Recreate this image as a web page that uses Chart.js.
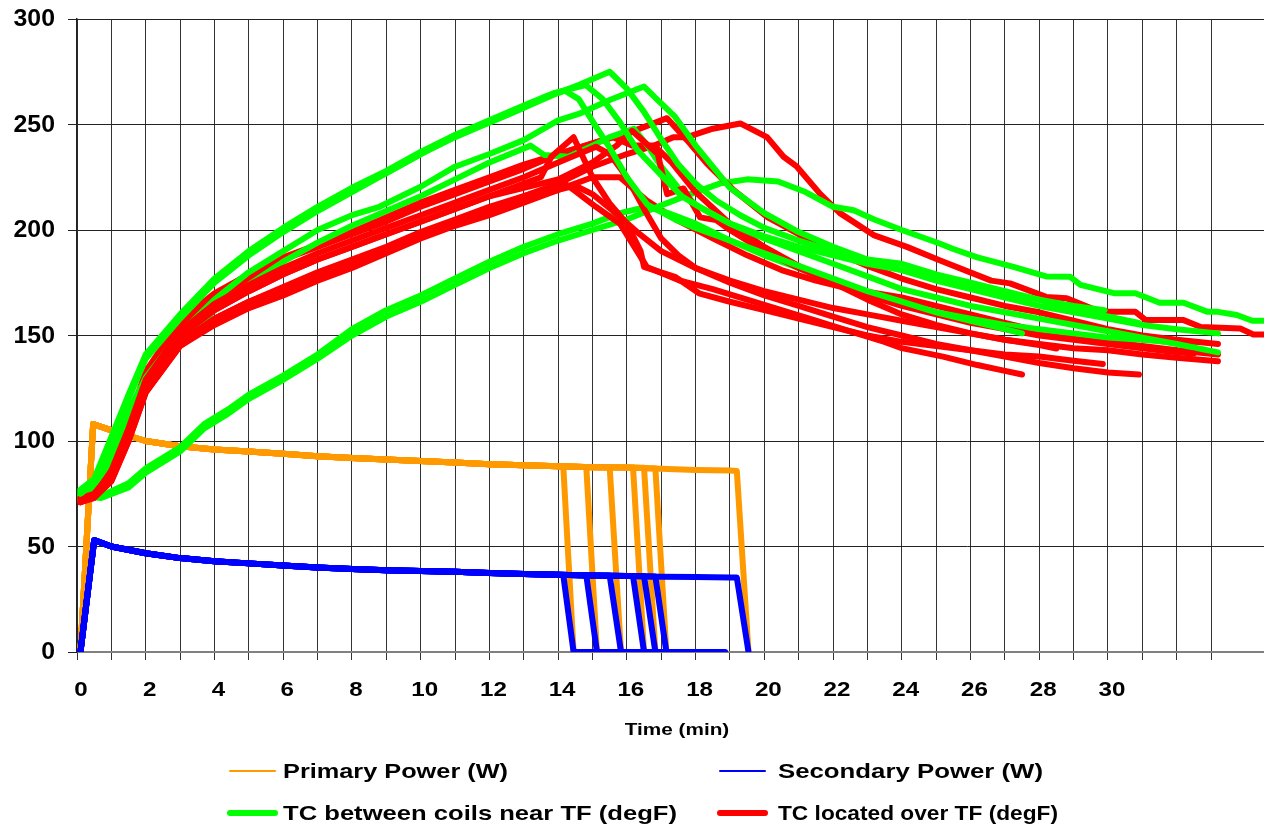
<!DOCTYPE html>
<html>
<head>
<meta charset="utf-8">
<script src="https://cdn.jsdelivr.net/npm/chart.js@4/dist/chart.umd.min.js"></script>
<style>
html,body{margin:0;padding:0;background:#fff;}
#wrap{width:1264px;height:828px;position:relative;}
</style>
</head>
<body>
<div id="wrap"><canvas id="c"></canvas></div>
<script>
// ---------- tick labels ----------
const xTickLabels = [0,2,4,6,8,10,12,14,16,18,20,22,24,26,28,30];
const yTickValues = [0,50,100,150,200,250,300];
const xAxisTitle = 'Time (min)';
const legendNames = ['Primary Power (W)','Secondary Power (W)','TC between coils near TF (degF)','TC located over TF (degF)'];

// ---------- power (read values) ----------
const primaryBase = [[0.1,0],[0.47,108],[1.2,104],[2,100],[3,97.5],[4,96],[5,95],[6,94],[7,92.8],[8,92],[9,91.2],[10,90.5],[11,89.8],[12,89],[13,88.5],[14,88],[15,87.6],[16,87.4],[17,86.8],[18,86.3],[19,86]];
const secondaryBase = [[0.1,0],[0.5,53],[1,50],[2,46.8],[3,44.5],[4,43],[5,42],[6,41],[7,40],[8,39.3],[9,38.8],[10,38.4],[11,38],[12,37.4],[13,37],[14,36.6],[15,36.3],[16,36],[17,35.7],[18,35.5],[19,35.3]];
const powerOffStart = [14.15,14.82,15.5,16.18,16.5,16.83,19.2];
const powerOffEnd   = [14.45,15.13,15.83,16.5,16.83,17.15,19.54];
const primaryOffLevel   = [88,87.7,87.6,87.4,87.3,87,85.8];
const secondaryOffLevel = [36.5,36.3,36.2,36,36,35.8,35.3];
const secondaryZeroTail = [18.86,null,18.22,null,null,null,null];

// ---------- TC between coils near TF (green) ----------
const gA = [[0.1,75],[0.5,80],[1,100],[1.5,120],[2,139],[3,158],[4,175],[5,188],[6,199],[7,209],[8,218],[9,227],[10,236],[11,244],[12,251],[13,258],[13.6,263],[14.2,266],[14.6,262],[15.1,249],[15.5,239],[16,225],[16.6,212],[17.4,205],[18,201],[19,195],[20,189],[21,183],[22,177],[23,171],[24,166],[25,161],[26,157],[27,153],[27.5,151]];
const gB = [[0.1,77],[0.5,82],[1,102],[1.5,122],[2,141],[3,160],[4,177],[5,190],[6,201],[7,211],[8,220],[9,228],[10,237],[11,245],[12,252],[13,259],[13.9,265],[14.8,268.7],[15.3,262],[15.8,251],[16.3,238],[17,226],[17.6,216],[18.2,210],[19,203],[20,197],[21,192],[22,188],[23,184],[24,181],[25,177],[26,174],[27,170],[28,167],[29,164],[29.9,162]];
const gC = [[0.1,76],[0.5,81],[1,101],[1.5,121],[2,140],[3,159],[4,176],[5,189],[6,200],[7,210],[8,219],[9,227],[10,236],[11,245],[12,251],[13,258],[14,265],[14.6,268.7],[15.5,275],[16,267],[16.5,256],[17,243],[17.5,231],[18,222],[18.6,214],[19.3,207],[20,201],[21,195],[22,190],[23,186],[24,184],[25,179],[26,175],[27,171],[28,167],[29,162],[30,159],[30.9,156]];
const gD = [[0.1,74],[0.5,78],[1,95],[1.5,114],[2,130],[3,151],[4,167],[5,180],[6,190],[7,200],[8,207],[8.8,211],[10,220.5],[11,230],[12,236],[13,242.6],[14,252],[14.6,255],[15.5,261.6],[16.5,268],[16.9,261.6],[17.4,253.7],[18,240],[18.5,230],[19,220],[20,208],[21,199],[22,192],[23,186],[24,181],[25,176],[26,172],[27,168],[28,164],[29,161],[30,158],[31,155],[32,153],[33.2,151]];
const gE = [[0.1,72],[0.5,76],[1,92],[1.5,110],[2,125],[3,146],[4,162],[5,174],[6,185],[7,194],[8,202],[9,209],[10,216],[11,224],[12,232],[13.2,240],[13.6,235.5],[14.3,234.7],[15,240],[15.5,244],[16.2,248],[16.6,240],[17,230],[17.5,220],[18,212],[19,203],[20,196],[21,190],[22,184],[23,178],[24,172],[25,168],[26,164],[27,161],[28,158],[29,155],[30,152],[31,149],[32,146],[33.2,142]];
const gF = [[0.1,73],[0.7,74],[1.5,80],[2,87],[3,97],[3.7,108],[4.4,115],[5,122],[6,131],[7,141],[8,153],[9,162],[10,169],[11,177],[12,185],[13,192],[14,198],[15,203],[15.8,208],[16.6,211],[17.2,208],[18,203],[19,195],[20,188],[21,182],[22,176],[23,170],[24,165],[25,161],[26,158],[27,155],[28,153],[29,151],[30,149],[31,148],[32,146.5],[32.5,146]];
const gG = [[0.1,74],[0.7,73],[1.5,78],[2,85],[3,95],[3.7,106],[4.4,113],[5,120],[6,129],[7,139],[8,150],[9,159],[10,166],[11,174],[12,182],[13,189],[14,195],[15,200],[16,205],[16.9,211],[17.85,217],[18.7,222],[19.5,224],[20.4,223],[21.2,218],[22,211],[22.6,209.4],[23.2,205],[24,200],[25.1,193.6],[25.5,191],[26.2,187],[27.25,182.5],[28.2,178],[28.9,177.8],[29.2,174],[30.2,170],[30.8,170],[31.5,165.5],[32.2,165.5],[32.9,161.2],[33.2,161.2],[33.75,159.7],[34.2,157],[34.6,157]];

// ---------- TC located over TF (red) ----------
const rA = [[0.1,72],[0.5,74],[1,83],[1.5,102],[2,125],[3,147],[4,158],[5,166],[6,172],[7,179],[8,185],[9,191],[10,198],[11,204],[12,210],[13,216],[14.2,222],[14.45,219],[15.1,211],[15.8,203],[16.58,182.5],[17.55,176],[18.5,172],[19.5,167],[20.5,162],[21.5,157],[22.5,152],[23.5,147],[24,144],[25.2,140],[26.2,136],[26.9,133.6],[27.5,131.5]];
const rB = [[0.1,71],[0.5,73],[1,81],[1.5,100],[2,123],[3,145],[4,155],[5,163],[6,169],[7,176],[8,182],[9,189],[10,196],[11,202],[12,207],[13,213],[14,219],[14.5,221],[15,217],[15.6,209],[16.3,199],[17,190],[18,182],[19,176],[20,171],[21,167],[22,163],[23,160],[24,157],[25,154],[26,151],[27,148],[28,145.5],[28.5,143.8]];
const rC = [[0.1,73],[0.5,75],[1,85],[1.5,105],[2,127],[3,150],[4,162],[5,171],[6,179],[7,186],[8,192],[9,198],[10,204],[11,210],[12,216],[13,222],[13.5,225],[13.8,234.7],[14.45,244],[15,225],[15.5,212.6],[16,203],[16.4,190],[16.5,182.5],[17.4,177.8],[18.1,170],[19,166],[20,162],[21,158],[22,154],[23,150],[24,147],[25,145],[26,143],[27,141],[28,140],[29,138],[29.85,136.5]];
const rD = [[0.1,71],[0.5,74],[1,86],[1.5,106],[2,129],[3,152],[4,165],[5,174],[6,182],[7,189],[8,195],[9,201],[10,207],[11,213],[12,219],[13,225],[14,232],[15.1,239.5],[15.5,236],[16,225],[16.5,210],[17,196],[17.5,188],[18,182],[19,175],[20,169],[21,164],[22,159],[23,154],[24,150],[25,146],[26,143],[27,140],[28,137],[29,134.5],[30,132.5],[30.9,131.5]];
const rE = [[0.1,73],[0.5,75],[1,85],[1.5,105],[2,127],[3,150],[4,162],[5,171],[6,179],[7,186],[8,192],[9,198],[10,204],[11,210],[12,216],[13,220],[14,224],[15,232],[15.7,240],[16.15,247],[16.9,236],[17.17,217],[17.65,219.7],[18.13,206],[18.6,204.7],[19,200],[20,190],[21,182],[22,175],[23,169],[24,164],[25,160],[26,156],[27,153],[28,150],[29,148],[30,146],[31,144],[32,142],[32.5,141.5]];
const rF = [[0.1,72],[0.5,75],[1,87],[1.5,108],[2,131],[3,155],[4,168],[5,177],[6,186],[7,192],[8,198],[9,204],[10,211],[11,217],[12,223],[13,229],[14,236],[15.2,242],[16.15,246.6],[17.17,253],[17.75,242.6],[18.33,231.5],[19.1,219],[20.1,206],[21,198],[22,190],[23,183],[24,177],[25,172],[26,168],[27,164],[28,161],[29,157],[30,153],[31,150],[32,148],[33.2,146]];
const rG = [[0.1,72],[0.5,74],[1,83],[1.5,102],[2,125],[3,147],[4,158],[5,166],[6,173],[7,180],[8,186],[9,192],[10,199],[11,205],[12,211],[13,216],[14,222],[15,230],[16,236],[16.8,240],[17.3,232],[18,218],[19,203],[20,192],[21,183],[22,175],[23,167],[24,160],[25,155],[26,151],[27,148],[28,146],[29,144],[30,143],[31,141],[32,139.5],[33.2,137.8]];
const rH = [[0.1,73],[0.5,76],[1,88],[1.5,109],[2,133],[3,157],[4,170],[5,179],[6,187],[7,193],[8,199],[9,206],[10,213],[11,219],[12,225],[13,231],[14,236],[15,241],[15.6,244],[16.15,240],[16.8,240],[17.35,244],[17.75,244],[18.5,248],[19.3,250.5],[20.08,244],[20.56,234.7],[20.95,230],[21.63,217],[22.2,208],[23.18,197.6],[24.15,192],[25.1,185.7],[26.6,176],[27.15,174.7],[28.2,168.3],[28.8,167.6],[29.77,161.2],[30.8,161.2],[31.1,157.3],[32.2,157.3],[32.7,154],[33.85,153.3],[34.23,150.5],[34.6,150.5]];
const rI = [[0.1,71],[0.5,73],[1,81],[1.5,100],[2,123],[3,145],[4,156],[5,164],[6,170],[7,177],[8,183],[9,190],[10,197],[11,203],[12,208],[13,214],[14,219],[15,225],[15.8,225],[16.58,214],[17.46,204.7],[18.5,196],[19.5,188],[20.5,181],[21.5,176],[22.5,172],[24,168],[25,164],[26,160],[27,156],[28,152],[29,149],[30,147],[31,145],[32,143],[33.2,141]];

const greenSeries = [gA,gB,gC,gD,gE,gF,gG];
const redSeries = [rA,rB,rC,rD,rE,rF,rG,rH,rI];

// ---------- colours ----------
const C_PRIMARY = '#FF9900', C_SECONDARY = '#0000FF', C_GREEN = '#00FF00', C_RED = '#FF0000';

function toXY(arr){ return arr.map(p => ({x:p[0], y:p[1]})); }

function buildPower(base, k, level){
  const pts = base.filter(p => p[0] < powerOffStart[k]);
  pts.push([powerOffStart[k], level[k]]);
  pts.push([powerOffEnd[k], 0]);
  return pts;
}

const datasets = [];
const nT = Math.max(greenSeries.length, redSeries.length);
for (let i = 0; i < nT; i++) {
  if (redSeries[i]) datasets.push({label: legendNames[3], data: toXY(redSeries[i]), borderColor: C_RED, borderWidth: 6, order: 1});
  if (greenSeries[i]) datasets.push({label: legendNames[2], data: toXY(greenSeries[i]), borderColor: C_GREEN, borderWidth: 6, order: 1});
}
for (let k = 0; k < powerOffStart.length; k++) {
  const s = buildPower(secondaryBase, k, secondaryOffLevel);
  if (secondaryZeroTail[k] !== null) s.push([secondaryZeroTail[k], 0]);
  datasets.push({label: legendNames[1], data: toXY(s), borderColor: C_SECONDARY, borderWidth: 6, order: 2});
}
for (let k = 0; k < powerOffStart.length; k++) {
  datasets.push({label: legendNames[0], data: toXY(buildPower(primaryBase, k, primaryOffLevel)), borderColor: C_PRIMARY, borderWidth: 6, order: 3});
}
datasets.forEach(d => { d.pointRadius = 0; d.fill = false; d.tension = 0; d.borderJoinStyle = 'round'; d.borderCapStyle = 'round'; });

const FONT = '"Liberation Sans", Arial, sans-serif';

function stretchedText(c, text, x, y, sx, align){
  c.save();
  c.translate(x, y);
  c.scale(sx, 1);
  c.textAlign = align;
  c.fillText(text, 0, 0);
  c.restore();
}

const bgPlugin = {
  id: 'bg',
  beforeDraw(chart){ const c = chart.ctx; c.save(); c.fillStyle = '#fff'; c.fillRect(0,0,chart.width,chart.height); c.restore(); }
};

const textPlugin = {
  id: 'texts',
  afterDraw(chart){
    const c = chart.ctx;
    const xs = chart.scales.x, ys = chart.scales.y;
    c.save();
    c.fillStyle = '#000';
    c.textBaseline = 'middle';
    // y tick labels
    c.font = 'bold 23px ' + FONT;
    yTickValues.forEach(v => stretchedText(c, String(v), 55, ys.getPixelForValue(v) + 1, 1.08, 'right'));
    // x tick labels
    c.font = 'bold 21px ' + FONT;
    xTickLabels.forEach(v => stretchedText(c, String(v), xs.getPixelForValue(v) + 4, 690, 1.15, 'center'));
    // axis title
    c.font = 'bold 17px ' + FONT;
    stretchedText(c, xAxisTitle, 677, 730, 1.22, 'center');
    // legend
    const items = [
      {x:230, tx:283, y:771, color:C_PRIMARY, w:2, text:legendNames[0], tw:225},
      {x:720, tx:778, y:771, color:C_SECONDARY, w:2, text:legendNames[1], tw:265},
      {x:230, tx:283, y:813, color:C_GREEN, w:6, text:legendNames[2], tw:394},
      {x:720, tx:778, y:813, color:C_RED, w:6, text:legendNames[3], tw:280}
    ];
    c.font = 'bold 21px ' + FONT;
    items.forEach(it => {
      c.strokeStyle = it.color; c.lineWidth = it.w; c.lineCap = 'round';
      c.beginPath(); c.moveTo(it.x, it.y); c.lineTo(it.x + 45, it.y); c.stroke();
      c.fillStyle = '#000';
      const sx = it.tw / c.measureText(it.text).width;
      stretchedText(c, it.text, it.tx, it.y + 1, sx, 'left');
    });
    c.restore();
  }
};

new Chart(document.getElementById('c'), {
  type: 'line',
  data: { datasets },
  plugins: [bgPlugin, textPlugin],
  options: {
    responsive: true,
    maintainAspectRatio: false,
    animation: false,
    layout: { padding: { top: 19, right: 0, left: 0, bottom: 0 } },
    plugins: { legend: { display: false }, tooltip: { enabled: false } },
    scales: {
      x: {
        type: 'linear',
        min: 0, max: 34.54,
        afterFit: s => { s.height = 176; },
        afterBuildTicks: s => { s.ticks = s.ticks.filter(t => Number.isInteger(t.value)); },
        ticks: { stepSize: 1, autoSkip: false, maxRotation: 0, callback: () => '' },
        grid: { color: '#333', lineWidth: 1, tickLength: 8, drawTicks: true },
        border: { color: '#808080', width: 2 }
      },
      y: {
        min: 0, max: 300,
        afterFit: s => { s.width = 77; },
        afterBuildTicks: s => { s.ticks = yTickValues.map(v => ({value: v})); },
        ticks: { callback: () => '' },
        grid: { color: '#222', lineWidth: 1, tickLength: 9 },
        border: { color: '#222', width: 1.5 }
      }
    }
  }
});
</script>
</body>
</html>
